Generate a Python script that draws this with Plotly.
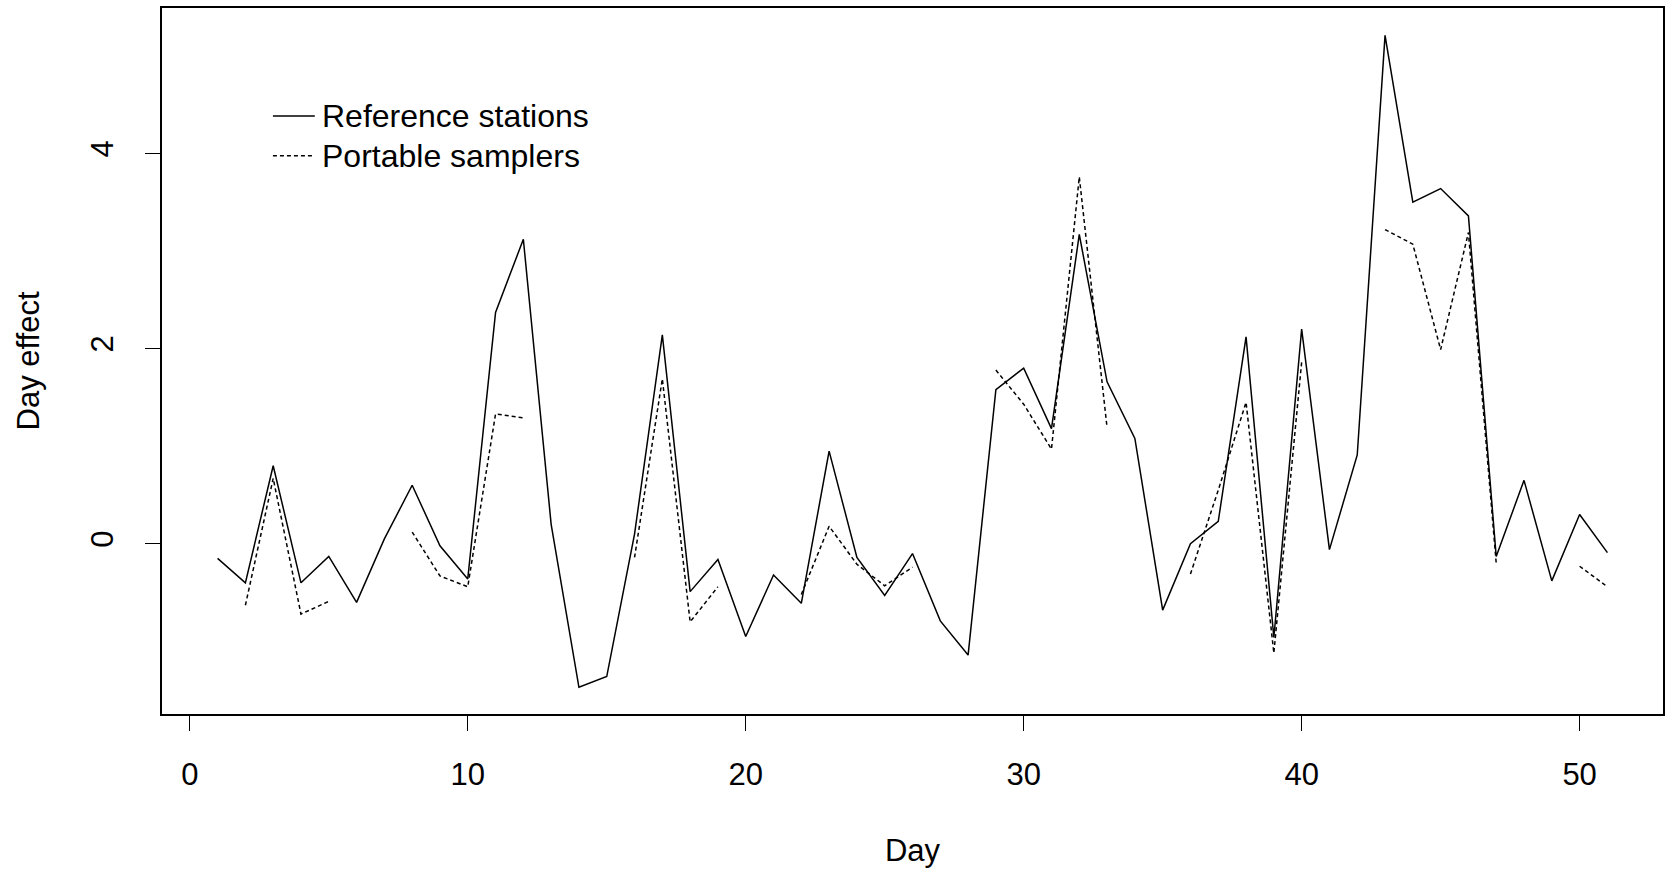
import plotly.graph_objects as go

days = list(range(1, 52))
reference_stations = [-0.15, -0.40, 0.80, -0.40, -0.13, -0.60, 0.05, 0.60, -0.02, -0.36,
                      2.37, 3.12, 0.20, -1.47, -1.36, 0.10, 2.14, -0.49, -0.16, -0.95,
                      -0.32, -0.61, 0.95, -0.14, -0.53, -0.10, -0.79, -1.14, 1.58, 1.80,
                      1.18, 3.17, 1.66, 1.08, -0.68, 0.00, 0.23, 2.12, -0.96, 2.20,
                      -0.06, 0.91, 5.21, 3.50, 3.64, 3.36, -0.13, 0.65, -0.38, 0.30, -0.09]
portable_samplers = [None, -0.63, 0.67, -0.72, -0.59, None, None, 0.12, -0.33, -0.44,
                     1.33, 1.29, None, None, None, -0.14, 1.69, -0.80, -0.44, None,
                     None, -0.52, 0.18, -0.21, -0.43, -0.24, None, None, 1.78, 1.43,
                     0.97, 3.76, 1.19, None, None, -0.31, 0.55, 1.45, -1.12, 1.86,
                     None, None, 3.22, 3.07, 1.99, 3.19, -0.20, None, None, -0.23, -0.44]
x_ticks = [0, 10, 20, 30, 40, 50]
y_ticks = [0, 2, 4]
legend_labels = ["Reference stations", "Portable samplers"]

FONT = "Liberation Sans, Arial, Helvetica, sans-serif"
FS = 31
DASH = "4px,3px"

fig = go.Figure()
fig.add_trace(go.Scatter(x=days, y=reference_stations, mode="lines", name=legend_labels[0],
                         line=dict(color="black", width=1.5), showlegend=False))
fig.add_trace(go.Scatter(x=days, y=portable_samplers, mode="lines", name=legend_labels[1],
                         line=dict(color="black", width=1.5, dash=DASH), showlegend=False,
                         connectgaps=False))

# manual legend (R style, no box)
leg_x0, leg_x1, leg_tx = 0.0739, 0.1018, 0.1051
leg_rows = [0.8472, 0.7906]
for lab, yy, dash in zip(legend_labels, leg_rows, ["solid", DASH]):
    fig.add_shape(type="line", xref="paper", yref="paper", x0=leg_x0, x1=leg_x1, y0=yy, y1=yy,
                  line=dict(color="black", width=1.5, dash=dash))
    fig.add_annotation(xref="paper", yref="paper", x=leg_tx, y=yy, text=lab, showarrow=False,
                       xanchor="left", yanchor="middle", font=dict(family=FONT, size=32, color="black"))

fig.update_layout(
    width=1667, height=873,
    margin=dict(l=162, r=2, t=8, b=159),
    paper_bgcolor="white", plot_bgcolor="white",
    font=dict(family=FONT, size=FS, color="black"),
    showlegend=False,
)
fig.update_xaxes(range=[-1, 53], tickvals=x_ticks, ticks="outside", ticklen=15, tickwidth=1,
                 tickcolor="black", showline=True, linecolor="black", linewidth=1.5, mirror=True,
                 showgrid=False, zeroline=False, ticklabelstandoff=17,
                 title=dict(text="Day", standoff=48, font=dict(size=FS)))
fig.update_yaxes(range=[-1.744, 5.49], tickvals=y_ticks, ticks="outside", ticklen=15, tickwidth=1,
                 tickcolor="black", showline=True, linecolor="black", linewidth=1.5, mirror=True,
                 showgrid=False, zeroline=False, tickangle=-90, ticklabelstandoff=20,
                 title=dict(text="Day effect", standoff=36, font=dict(size=FS)))

fig.write_html("out.html", config={"displayModeBar": False},
               post_script="document.body.style.margin='0';document.body.style.overflow='hidden';")
